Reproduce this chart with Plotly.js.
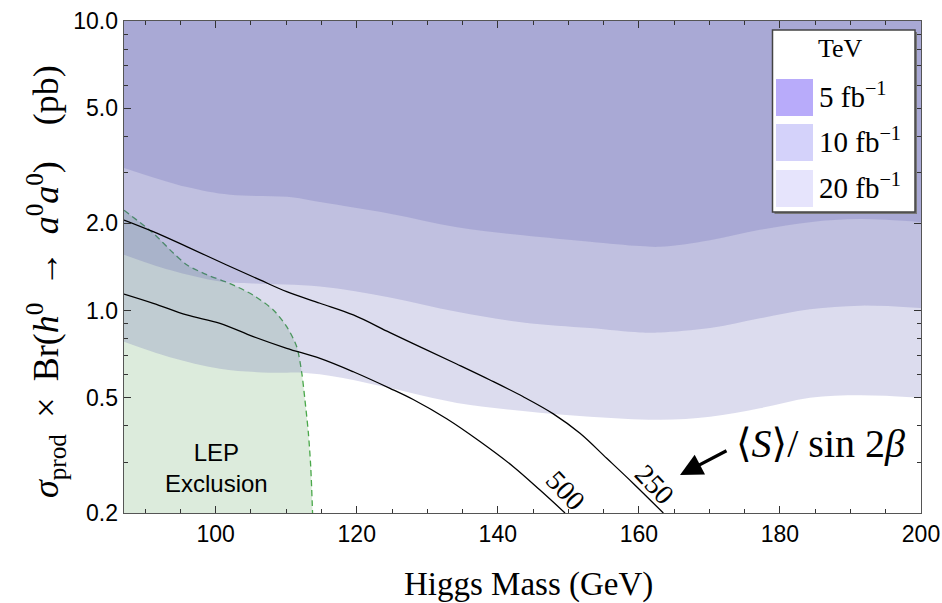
<!DOCTYPE html>
<html>
<head>
<meta charset="utf-8">
<script src="https://cdn.plot.ly/plotly-3.0.1.min.js"></script>
<style>html,body{margin:0;padding:0;background:#fff;}#chart{width:942px;height:603px;}</style>
</head>
<body>
<div id="chart"></div>
<script>
// ---- axis ranges ----
const xMin = 87, xMax = 200, yMin = 0.2, yMax = 10;

// ---- 5 fb^-1 reach (lower edge of darkest band) ----
const mass5 = [87, 95.93, 102.03, 110.11, 114.79, 124.71, 134.21, 143.57, 153.07, 160.16, 163.0, 170.09, 177.17, 184.26, 191.35, 200];
const lim5  = [3.11, 2.67, 2.51, 2.47, 2.37, 2.16, 1.94, 1.82, 1.73, 1.67, 1.66, 1.75, 1.90, 2.02, 2.07, 2.02];

// ---- 10 fb^-1 reach ----
const mass10 = [87, 93.52, 100.61, 105.29, 114.79, 124.71, 134.21, 143.57, 153.07, 160.16, 163.0, 170.09, 177.17, 184.26, 191.35, 200];
const lim10  = [1.56, 1.38, 1.26, 1.24, 1.21, 1.11, 0.99, 0.91, 0.87, 0.84, 0.84, 0.87, 0.94, 1.01, 1.04, 1.02];

// ---- 20 fb^-1 reach ----
const mass20 = [87, 93.52, 100.61, 107.7, 112.38, 117.2, 124.71, 134.21, 143.57, 153.07, 163.0, 170.09, 177.17, 184.26, 191.35, 200];
const lim20  = [0.78, 0.69, 0.63, 0.61, 0.61, 0.59, 0.54, 0.48, 0.45, 0.43, 0.42, 0.43, 0.46, 0.50, 0.51, 0.50];

// ---- LEP exclusion boundary ----
const lepMass  = [87, 91.15, 93.99, 95.89, 98.73, 102.03, 105.33, 108.17, 110.07, 111.49, 112.2, 112.66, 113.13, 113.47, 113.75];
const lepLimit = [2.22, 1.85, 1.58, 1.44, 1.33, 1.24, 1.13, 1.005, 0.88, 0.75, 0.61, 0.49, 0.38, 0.29, 0.195];

// ---- <S>/sin2beta contours ----
const s250Mass = [87.0, 91.15, 95.89, 101.56, 106.28, 110.07, 114.79, 119.51, 124.71, 129.44, 134.17, 138.89, 143.61, 147.87, 151.65, 155.44, 159.21, 163.47];
const s250     = [2.055, 1.873, 1.663, 1.437, 1.276, 1.162, 1.060, 0.966, 0.839, 0.741, 0.654, 0.576, 0.504, 0.440, 0.377, 0.309, 0.253, 0.200];
const s500Mass = [87.0, 91.15, 95.89, 100.61, 105.33, 110.07, 114.79, 119.51, 124.71, 128.0, 132.75, 137.47, 142.2, 145.98, 149.53];
const s500     = [1.141, 1.060, 0.966, 0.904, 0.813, 0.741, 0.684, 0.615, 0.539, 0.493, 0.423, 0.353, 0.289, 0.240, 0.200];

// ---- labels ----
const yTickVals = [0.2, 0.5, 1, 2, 5, 10];
const yTickText = ['0.2', '0.5', '1.0', '2.0', '5.0', '10.0'];
const yMinorVals = [0.3, 0.4, 0.6, 0.7, 0.8, 0.9, 3, 4, 6, 7, 8, 9];
const xTickVals = [100, 120, 140, 160, 180, 200];
const legendTitle = 'TeV';
const legendLabels = ['5 fb<sup>\u22121</sup>', '10 fb<sup>\u22121</sup>', '20 fb<sup>\u22121</sup>'];
const legendColors = ['#b8abfa', '#d4d2fa', '#e6e4fc'];
const contourLabels = ['500', '250'];

const bandFill = 'rgba(80,80,170,0.2)';
const serif = 'Liberation Serif, DejaVu Serif, serif';
const sans = 'Liberation Sans, Arial, sans-serif';
const nb = '\u00a0';
const th = '\u2009';

// plot area in pixels
const L = 124, R = 921, T = 21, B = 513;
const px = v => (v - L) / (R - L);
const py = v => (B - v) / (B - T);

const traces = [];
// LEP exclusion (green) : bottom guide + boundary filled to it
traces.push({x: [xMin, lepMass[lepMass.length - 1]], y: [yMin * 0.9, yMin * 0.9], mode: 'lines', line: {width: 0}, showlegend: false, hoverinfo: 'skip'});
traces.push({x: lepMass, y: lepLimit, mode: 'lines', fill: 'tonexty', fillcolor: '#dcebdc',
  line: {color: 'rgba(0,0,0,0)', width: 0, shape: 'spline', smoothing: 0.8}, showlegend: false, hoverinfo: 'skip'});
traces.push({x: lepMass, y: lepLimit, mode: 'lines',
  line: {color: '#4aa84a', width: 1.3, dash: '6px,4px', shape: 'spline', smoothing: 0.8}, showlegend: false, hoverinfo: 'skip'});

// luminosity reach bands (translucent layers stacked to the top)
[[mass20, lim20], [mass10, lim10], [mass5, lim5]].forEach(([mx, lim]) => {
  traces.push({x: [xMin, xMax], y: [yMax * 1.2, yMax * 1.2], mode: 'lines', line: {width: 0}, showlegend: false, hoverinfo: 'skip'});
  traces.push({x: mx, y: lim, mode: 'lines', fill: 'tonexty', fillcolor: bandFill,
    line: {color: 'rgba(0,0,0,0)', width: 0, shape: 'spline', smoothing: 1}, showlegend: false, hoverinfo: 'skip'});
});

// contours
traces.push({x: s500Mass, y: s500, mode: 'lines', line: {color: '#000', width: 1.3, shape: 'spline', smoothing: 1}, showlegend: false, hoverinfo: 'skip'});
traces.push({x: s250Mass, y: s250, mode: 'lines', line: {color: '#000', width: 1.3, shape: 'spline', smoothing: 1}, showlegend: false, hoverinfo: 'skip'});

const shapes = [
  {type: 'rect', xref: 'paper', yref: 'paper', x0: px(774.5), x1: px(917), y0: py(214), y1: py(32), fillcolor: '#777', line: {width: 0}},
  {type: 'rect', xref: 'paper', yref: 'paper', x0: px(772.5), x1: px(915), y0: py(212), y1: py(30), fillcolor: '#fff', line: {color: '#444', width: 1.5}}
];
const swTop = [79, 124, 170];
legendColors.forEach((c, i) => {
  shapes.push({type: 'rect', xref: 'paper', yref: 'paper', x0: px(776), x1: px(813), y0: py(swTop[i] + 37), y1: py(swTop[i]), fillcolor: c, line: {width: 0}});
});

const yTitle = '<i>\u03c3</i><sub>prod</sub>' + nb + th + '\u00d7' + nb + th + 'Br(<i>h</i><sup>0</sup>' + nb + th + '\u2192' + nb + th +
  '<i>a</i><sup>0</sup><i>a</i><sup>0</sup>)' + nb + nb + nb + nb + '(pb)';

const annotations = [
  {xref: 'paper', yref: 'paper', x: px(46), y: py(282), xanchor: 'center', yanchor: 'middle', textangle: -90, showarrow: false,
   text: yTitle, font: {family: serif, size: 36, color: '#000'}},
  {xref: 'paper', yref: 'paper', x: px(528), y: py(584), xanchor: 'center', yanchor: 'middle', showarrow: false,
   text: 'Higgs Mass (GeV)', font: {family: serif, size: 33, color: '#000'}},
  {xref: 'paper', yref: 'paper', x: px(216), y: py(468), xanchor: 'center', yanchor: 'middle', showarrow: false,
   text: 'LEP<br>Exclusion', font: {family: sans, size: 24, color: '#000'}},
  {xref: 'paper', yref: 'paper', x: px(566), y: py(490), xanchor: 'center', yanchor: 'middle', showarrow: false, textangle: 47,
   text: contourLabels[0], font: {family: serif, size: 28, color: '#000'}},
  {xref: 'paper', yref: 'paper', x: px(655), y: py(484), xanchor: 'center', yanchor: 'middle', showarrow: false, textangle: 47,
   text: contourLabels[1], font: {family: serif, size: 28, color: '#000'}},
  {xref: 'paper', yref: 'paper', x: px(680), y: py(475), ax: 48, ay: -25, showarrow: true, arrowhead: 2, arrowsize: 1.4, arrowwidth: 3.2, arrowcolor: '#000', text: ''},
  {xref: 'paper', yref: 'paper', x: px(820), y: py(443), xanchor: 'center', yanchor: 'middle', showarrow: false,
   text: '\u27e8<i>S</i>\u27e9/' + nb + 'sin' + nb + '2<i>\u03b2</i>', font: {family: serif, size: 40, color: '#000'}},
  {xref: 'paper', yref: 'paper', x: px(840), y: py(49), xanchor: 'center', yanchor: 'middle', showarrow: false,
   text: legendTitle, font: {family: serif, size: 26, color: '#000'}}
];
legendLabels.forEach((t, i) => {
  annotations.push({xref: 'paper', yref: 'paper', x: px(817), y: py(swTop[i] + 16), xanchor: 'left', yanchor: 'middle', showarrow: false,
    text: t, font: {family: serif, size: 29, color: '#000'}});
});

const axisCommon = {
  showgrid: false, zeroline: false, showline: true, linecolor: '#555', linewidth: 1.4,
  mirror: 'allticks', ticks: 'inside', ticklen: 7, tickwidth: 1, tickcolor: '#333',
  tickfont: {family: sans, size: 23, color: '#000'}
};

const layout = {
  width: 942, height: 603,
  margin: {l: L, r: 942 - R, t: T, b: 603 - B, pad: 0},
  paper_bgcolor: '#fff', plot_bgcolor: '#fff',
  showlegend: false,
  xaxis: Object.assign({}, axisCommon, {
    range: [xMin, xMax], tickmode: 'array', tickvals: xTickVals,
    minor: {dtick: 5, tick0: 0, ticks: 'inside', ticklen: 4, tickwidth: 1, tickcolor: '#333'}
  }),
  yaxis: Object.assign({}, axisCommon, {
    type: 'log', range: [Math.log10(yMin), Math.log10(yMax)], tickmode: 'array', tickvals: yTickVals, ticktext: yTickText,
    minor: {tickmode: 'array', tickvals: yMinorVals, ticks: 'inside', ticklen: 4, tickwidth: 1, tickcolor: '#333'}
  }),
  shapes: shapes,
  annotations: annotations
};

Plotly.newPlot('chart', traces, layout, {staticPlot: true, displayModeBar: false});
</script>
</body>
</html>
